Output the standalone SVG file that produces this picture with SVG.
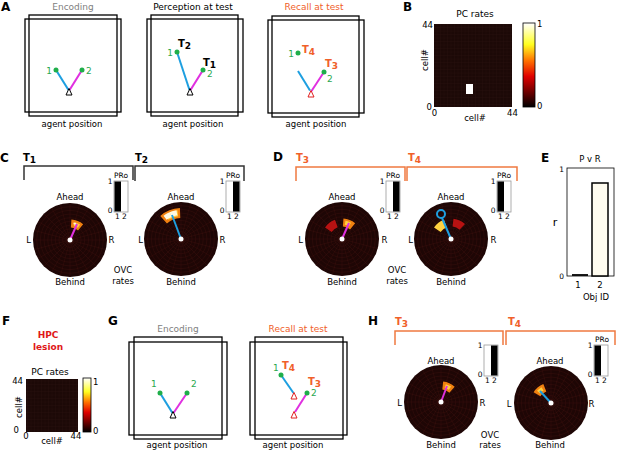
<svg xmlns="http://www.w3.org/2000/svg" width="617" height="451" viewBox="0 0 617 451">
<style>
text{font-family:"DejaVu Sans","Liberation Sans",sans-serif;fill:#000}
.lab{font-size:8.5px}
.ttl{font-size:9px}
.sm{font-size:7.5px}
.pl{font-size:12px;font-weight:bold}
.tb{font-size:10px;font-weight:bold}
.mid{text-anchor:middle}
.end{text-anchor:end}
.grn{fill:#2aa84e;font-size:9px}
.gray{fill:#808080}
.org{fill:#f0602a}
.red{fill:#e01818}
.frame{fill:none;stroke:#000;stroke-width:1.3}
.dot{fill:#1fae4a}
.blue{stroke:#1e9fe0;stroke-width:2;fill:none}
.mag{stroke:#e030e0;stroke-width:2;fill:none}
.tri{fill:#fff;stroke:#000;stroke-width:1}
.trr{fill:#fff;stroke:#e02020;stroke-width:1}
.br{fill:none;stroke:#333;stroke-width:1.5}
.bro{fill:none;stroke:#f07a40;stroke-width:1.5}
.pbox{fill:#fff;stroke:#999;stroke-width:0.8}
.bar{fill:#000}
.ho{fill:#f08010}
.hy{fill:#ffd040}
.hw{fill:#fff8e0}
.hr{fill:#b81212}
.cen{fill:#fff}
</style>
<defs>
<linearGradient id="hot" x1="0" y1="1" x2="0" y2="0">
<stop offset="0" stop-color="#000"/>
<stop offset="0.365" stop-color="#e00000"/>
<stop offset="0.55" stop-color="#ff7000"/>
<stop offset="0.746" stop-color="#ffff20"/>
<stop offset="1" stop-color="#fff"/>
</linearGradient>
<pattern id="hm" width="3.5" height="3.5" patternUnits="userSpaceOnUse">
<rect width="3.5" height="3.5" fill="#1c0907"/>
<path d="M0,3.3H3.5M3.3,0V3.5" stroke="#2a120d" stroke-width="0.4"/>
</pattern>
<g id="polar">
<circle r="37" fill="#1e0605"/>
<g fill="none" stroke="#3e1210" stroke-width="0.4">
<circle r="3.7"/><circle r="7.4"/><circle r="11.1"/><circle r="14.8"/><circle r="18.5"/><circle r="22.2"/><circle r="25.9"/><circle r="29.6"/><circle r="33.3"/>
<path d="M0,-37V37M9.58,-35.74L-9.58,35.74M18.5,-32.04L-18.5,32.04M26.16,-26.16L-26.16,26.16M32.04,-18.5L-32.04,18.5M35.74,-9.58L-35.74,9.58M37,0H-37M35.74,9.58L-35.74,-9.58M32.04,18.5L-32.04,-18.5M26.16,26.16L-26.16,-26.16M18.5,32.04L-18.5,-32.04M9.58,35.74L-9.58,-35.74"/>
</g>
</g>
<path id="spA" d="M-6.33,-19.5A20.5,20.5 0 0 1 6.33,-19.5L3.86,-11.89A12.5,12.5 0 0 0 -3.86,-11.89Z"/>
<path id="spAin" d="M-2.89,-18.27A18.5,18.5 0 0 1 2.89,-18.27L2.27,-14.32A14.5,14.5 0 0 0 -2.27,-14.32Z"/>
<path id="spAw" d="M-1.26,-17.96A18,18 0 0 1 1.26,-17.96L1.12,-15.96A16,16 0 0 0 -1.12,-15.96Z"/>
<path id="spB" d="M-10.6,-29.13A31,31 0 0 1 10.6,-29.13L7.18,-19.73A21,21 0 0 0 -7.18,-19.73Z"/>
<path id="spBin" d="M-6.52,-28.26A29,29 0 0 1 6.52,-28.26L5.17,-22.41A23,23 0 0 0 -5.17,-22.41Z"/>
<path id="spBw" d="M-3.53,-28.78A29,29 0 0 1 3.53,-28.78L2.93,-23.82A24,24 0 0 0 -2.93,-23.82Z"/>
<path id="tri" d="M0,-3.5L3,3L-3,3Z"/>
<g id="pro">
<rect class="pbox" x="0" y="0" width="14" height="31"/>
<text class="sm end" x="-1.5" y="3">1</text>
<text class="sm end" x="-1.5" y="32">0</text>
<text class="sm mid" x="3.5" y="38">1</text>
<text class="sm mid" x="10.5" y="38">2</text>
</g>
</defs>

<!-- panel letters -->
<g id="letters">
<text class="pl" x="1" y="11">A</text>
<text class="pl" x="403" y="11">B</text>
<text class="pl" x="0" y="162">C</text>
<text class="pl" x="273" y="161">D</text>
<text class="pl" x="541" y="162">E</text>
<text class="pl" x="2" y="325">F</text>
<text class="pl" x="108" y="325">G</text>
<text class="pl" x="368" y="325">H</text>
</g>

<!-- Panel A -->
<g id="A-encoding">
<text class="ttl mid gray" x="73" y="10">Encoding</text>
<rect class="frame" x="29" y="15" width="88" height="101"/>
<rect class="frame" x="25" y="19" width="96" height="93"/>
<line class="blue" x1="56" y1="70" x2="68.5" y2="90"/>
<line class="mag" x1="82" y1="70" x2="69.5" y2="90"/>
<circle class="dot" cx="56" cy="70" r="2.5"/>
<circle class="dot" cx="82" cy="70" r="2.5"/>
<use href="#tri" class="tri" x="69" y="92"/>
<text class="grn end" x="52" y="73.5">1</text>
<text class="grn" x="86" y="73.5">2</text>
<text class="lab mid" x="72" y="127">agent position</text>
</g>
<g id="A-perception">
<text class="ttl mid" x="193" y="10">Perception at test</text>
<rect class="frame" x="151" y="15" width="87" height="101"/>
<rect class="frame" x="147" y="19" width="96" height="93"/>
<line class="blue" x1="177" y1="52" x2="189.5" y2="90"/>
<line class="mag" x1="203" y1="70" x2="190.5" y2="90"/>
<circle class="dot" cx="177" cy="52" r="2.5"/>
<circle class="dot" cx="203" cy="70" r="2.5"/>
<use href="#tri" class="tri" x="190" y="92"/>
<text class="grn end" x="173" y="55.5">1</text>
<text class="grn" x="207" y="77">2</text>
<text class="tb" x="178" y="47">T<tspan font-size="9" dy="2">2</tspan></text>
<text class="tb" x="203" y="66">T<tspan font-size="9" dy="2">1</tspan></text>
<text class="lab mid" x="193" y="127">agent position</text>
</g>
<g id="A-recall">
<text class="ttl mid org" x="314" y="10">Recall at test</text>
<rect class="frame" x="272" y="16" width="87" height="101"/>
<rect class="frame" x="268" y="20" width="96" height="93"/>
<line class="blue" x1="298" y1="71" x2="310" y2="90.5"/>
<line class="mag" x1="324" y1="72" x2="311.5" y2="91"/>
<circle class="dot" cx="298" cy="53" r="2.5"/>
<circle class="dot" cx="324" cy="72" r="2.5"/>
<use href="#tri" class="trr" x="311" y="94"/>
<text class="grn end" x="294" y="56.5">1</text>
<text class="grn" x="327" y="82">2</text>
<text class="tb org" x="302" y="53">T<tspan font-size="9" dy="2">4</tspan></text>
<text class="tb org" x="325" y="67">T<tspan font-size="9" dy="2">3</tspan></text>
<text class="lab mid" x="316" y="127">agent position</text>
</g>

<!-- Panel B -->
<g id="B-pcrates">
<text class="ttl mid" x="475" y="17">PC rates</text>
<rect x="434" y="24" width="78" height="83" fill="url(#hm)"/>
<rect x="466" y="84" width="7" height="10" fill="#fff"/>
<text class="lab end" x="433" y="28">44</text>
<text class="lab end" x="432" y="110">0</text>
<text class="lab mid" x="434.5" y="116">0</text>
<text class="lab mid" x="512.5" y="116">44</text>
<text class="lab mid" x="475" y="121">cell#</text>
<text class="lab mid" transform="translate(428,60) rotate(-90)">cell#</text>
<rect x="523" y="23" width="12" height="84" fill="url(#hot)" stroke="#000" stroke-width="0.8"/>
<text class="lab" x="537" y="27">1</text>
<text class="lab" x="537" y="109">0</text>
</g>

<!-- Panel C -->
<g id="C-brackets">
<text class="tb" x="23" y="161">T<tspan font-size="9" dy="2">1</tspan></text>
<path class="br" d="M24,180V166H133V180"/>
<text class="tb" x="135" y="161">T<tspan font-size="9" dy="2">2</tspan></text>
<path class="br" d="M135,181V166H244V181"/>
</g>
<g id="C-ovc1">
<use href="#polar" x="70" y="240"/>
<g transform="translate(70,240)">
<use href="#spA" class="ho" transform="rotate(22)"/>
<use href="#spAin" class="hy" transform="rotate(24)"/>
<use href="#spAw" class="hw" transform="rotate(16)"/>
<line class="mag" x1="0" y1="0" x2="7" y2="-16"/>
<circle class="cen" r="2.5"/>
</g>
<text class="lab mid" x="70" y="200">Ahead</text>
<text class="lab mid" x="70" y="285">Behind</text>
<text class="lab mid" x="28.5" y="243">L</text>
<text class="lab mid" x="111.5" y="243">R</text>
<use href="#pro" x="114" y="181"/>
<rect class="bar" x="114.5" y="181.5" width="6.5" height="30"/>
<text class="sm mid" x="121" y="178">PRo</text>
</g>
<g id="C-ovc2">
<use href="#polar" x="181" y="239"/>
<g transform="translate(181,239)">
<use href="#spB" class="ho" transform="rotate(-22)"/>
<use href="#spBin" class="hy" transform="rotate(-20)"/>
<use href="#spBw" class="hw" transform="rotate(-30)"/>
<use href="#spBw" class="hw" transform="rotate(-16)"/>
<line class="blue" x1="0" y1="0" x2="-9" y2="-24"/>
<circle class="cen" r="2.5"/>
</g>
<text class="lab mid" x="181" y="200">Ahead</text>
<text class="lab mid" x="181" y="285">Behind</text>
<text class="lab mid" x="140.5" y="243">L</text>
<text class="lab mid" x="222.5" y="243">R</text>
<use href="#pro" x="226" y="181"/>
<rect class="bar" x="233" y="181.5" width="6.5" height="30"/>
<text class="sm mid" x="233" y="178">PRo</text>
</g>
<text class="lab mid" x="123" y="273">OVC</text>
<text class="lab mid" x="123" y="284">rates</text>

<!-- Panel D -->
<g id="D-brackets">
<text class="tb org" x="296" y="161">T<tspan font-size="9" dy="2">3</tspan></text>
<path class="bro" d="M296,181V167H405V181"/>
<text class="tb org" x="408" y="161">T<tspan font-size="9" dy="2">4</tspan></text>
<path class="bro" d="M407,181V167H517V181"/>
</g>
<g id="D-ovc1">
<use href="#polar" x="342" y="239"/>
<g transform="translate(342,239)">
<use href="#spA" class="hr" transform="rotate(-38)"/>
<use href="#spA" class="ho" transform="rotate(22)"/>
<use href="#spAin" class="hy" transform="rotate(20)"/>
<line class="mag" x1="0" y1="0" x2="7" y2="-16"/>
<circle class="cen" r="2.5"/>
</g>
<text class="lab mid" x="342" y="200">Ahead</text>
<text class="lab mid" x="342" y="285">Behind</text>
<text class="lab mid" x="300.5" y="243">L</text>
<text class="lab mid" x="384.5" y="243">R</text>
<use href="#pro" x="386" y="181"/>
<rect class="bar" x="393" y="181.5" width="6.5" height="30"/>
<text class="sm mid" x="393" y="178">PRo</text>
</g>
<g id="D-ovc2">
<use href="#polar" x="451" y="239"/>
<g transform="translate(451,239)">
<use href="#spA" class="hy" transform="rotate(-38)"/>
<use href="#spA" class="hr" transform="rotate(25)"/>
<line class="blue" x1="0" y1="0" x2="-9" y2="-21"/>
<circle cx="-10" cy="-25" r="4" fill="none" stroke="#1e9fe0" stroke-width="2"/>
<circle class="cen" r="2.5"/>
</g>
<text class="lab mid" x="451" y="200">Ahead</text>
<text class="lab mid" x="451" y="285">Behind</text>
<text class="lab mid" x="410.5" y="243">L</text>
<text class="lab mid" x="493.5" y="243">R</text>
<use href="#pro" x="497" y="181"/>
<rect class="bar" x="497.5" y="181.5" width="6.5" height="30"/>
<text class="sm mid" x="504" y="178">PRo</text>
</g>
<text class="lab mid" x="397" y="273">OVC</text>
<text class="lab mid" x="397" y="284">rates</text>

<!-- Panel E -->
<g id="E-bars">
<text class="lab mid" x="590" y="162">P v R</text>
<rect x="567" y="168" width="47" height="108" fill="#fff" stroke="#000" stroke-width="0.8"/>
<rect x="592" y="183" width="16" height="93" fill="#fffcf0" stroke="#000" stroke-width="1.5"/>
<line x1="572" y1="275" x2="588" y2="275" stroke="#000" stroke-width="1.8"/>
<text class="sm end" x="564" y="172">1</text>
<text class="sm end" x="564" y="279">0</text>
<text x="555" y="226" font-size="11" text-anchor="middle">r</text>
<text class="lab mid" x="578" y="288">1</text>
<text class="lab mid" x="600" y="288">2</text>
<text class="lab mid" x="596" y="300">Obj ID</text>
</g>

<!-- Panel F -->
<g id="F-lesion">
<text class="ttl mid red" font-weight="bold" x="48" y="338">HPC</text>
<text class="ttl mid red" font-weight="bold" x="48" y="350">lesion</text>
<text class="ttl mid" x="50" y="375">PC rates</text>
<rect x="26" y="379" width="52" height="53" fill="url(#hm)"/>
<text class="lab end" x="23" y="384">44</text>
<text class="lab end" x="19" y="433">0</text>
<text class="lab mid" x="26" y="439">0</text>
<text class="lab mid" x="76" y="439">44</text>
<text class="lab mid" x="52" y="444">cell#</text>
<text class="lab mid" transform="translate(22,407) rotate(-90)">cell#</text>
<rect x="83" y="378" width="8" height="54" fill="url(#hot)" stroke="#000" stroke-width="0.8"/>
<text class="lab" x="93" y="385">1</text>
<text class="lab" x="93" y="434">0</text>
</g>

<!-- Panel G -->
<g id="G-encoding">
<text class="ttl mid gray" x="178" y="332">Encoding</text>
<rect class="frame" x="134" y="337" width="88" height="102"/>
<rect class="frame" x="129" y="342" width="98" height="93"/>
<line class="blue" x1="160" y1="393" x2="172.5" y2="413"/>
<line class="mag" x1="187" y1="393" x2="173.5" y2="413"/>
<circle class="dot" cx="160" cy="393" r="2.5"/>
<circle class="dot" cx="187" cy="393" r="2.5"/>
<use href="#tri" class="tri" x="173" y="415"/>
<text class="grn" x="151" y="387">1</text>
<text class="grn" x="191" y="387">2</text>
<text class="lab mid" x="177" y="448">agent position</text>
</g>
<g id="G-recall">
<text class="ttl mid org" x="298" y="332">Recall at test</text>
<rect class="frame" x="255" y="337" width="88" height="102"/>
<rect class="frame" x="250" y="342" width="97" height="93"/>
<line class="blue" x1="281" y1="375" x2="293.5" y2="393"/>
<line class="mag" x1="307" y1="393" x2="295" y2="412"/>
<circle class="dot" cx="281" cy="375" r="2.5"/>
<circle class="dot" cx="307" cy="393" r="2.5"/>
<use href="#tri" class="trr" x="294" y="396"/>
<use href="#tri" class="trr" x="294" y="415"/>
<text class="grn" x="273" y="371">1</text>
<text class="tb org" x="282" y="369">T<tspan font-size="9" dy="2">4</tspan></text>
<text class="tb org" x="308" y="385">T<tspan font-size="9" dy="1.5">3</tspan></text>
<text class="grn" x="311" y="395.5">2</text>
<text class="lab mid" x="293" y="448">agent position</text>
</g>

<!-- Panel H -->
<g id="H-brackets">
<text class="tb org" x="395" y="325">T<tspan font-size="9" dy="2">3</tspan></text>
<path class="bro" d="M395,345V331H503V345"/>
<text class="tb org" x="508" y="325">T<tspan font-size="9" dy="2">4</tspan></text>
<path class="bro" d="M506,345V331H615V345"/>
</g>
<g id="H-ovc1">
<use href="#polar" x="441" y="402"/>
<g transform="translate(441,402)">
<use href="#spA" class="ho" transform="rotate(24)"/>
<use href="#spAin" class="hy" transform="rotate(24)"/>
<line class="mag" x1="0" y1="0" x2="6" y2="-16"/>
<circle class="cen" r="2.5"/>
</g>
<text class="lab mid" x="441" y="364">Ahead</text>
<text class="lab mid" x="441" y="448">Behind</text>
<text class="lab mid" x="399.5" y="406">L</text>
<text class="lab mid" x="482.5" y="406">R</text>
<use href="#pro" x="484" y="345"/>
<rect class="bar" x="491" y="345.5" width="6.5" height="30"/>
</g>
<g id="H-ovc2">
<use href="#polar" x="551" y="403"/>
<g transform="translate(551,403)">
<use href="#spA" class="ho" transform="rotate(-40)"/>
<use href="#spAin" class="hy" transform="rotate(-40)"/>
<line class="blue" x1="0" y1="0" x2="-11" y2="-12"/>
<circle class="cen" r="2.5"/>
</g>
<text class="lab mid" x="550" y="364">Ahead</text>
<text class="lab mid" x="550" y="448">Behind</text>
<text class="lab mid" x="509" y="407">L</text>
<text class="lab mid" x="591.5" y="407">R</text>
<use href="#pro" x="594" y="345"/>
<rect class="bar" x="594.5" y="345.5" width="6.5" height="30"/>
<text class="sm mid" x="602" y="342">PRo</text>
</g>
<text class="lab mid" x="490" y="438">OVC</text>
<text class="lab mid" x="490" y="448">rates</text>
</svg>
